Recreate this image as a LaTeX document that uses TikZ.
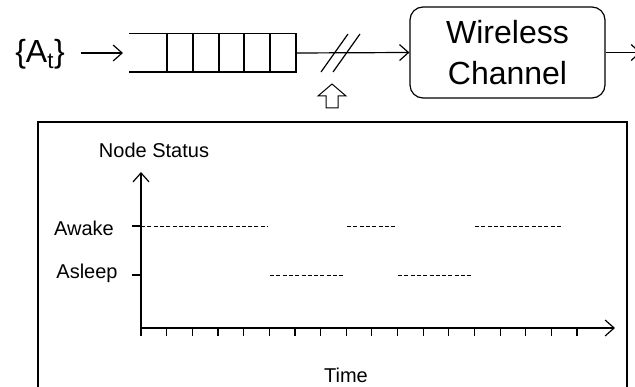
\documentclass[tikz,border=0pt]{standalone}
\usepackage{fontspec}
\setmainfont{Liberation Sans}
\usetikzlibrary{arrows.meta}
\tikzset{
  barb/.style={-{Straight Barb[length=9pt,width=16pt]}},
  dashline/.style={line width=0.8pt,dash pattern=on 4pt off 2.3pt},
  chanbox/.style={draw,rounded corners=13pt,minimum width=195pt,minimum height=91pt,align=center,font=\fontsize{32}{41}\selectfont},
  statlabel/.style={anchor=base,font=\fontsize{20}{24}\selectfont}
}
\begin{document}
\begin{tikzpicture}[x=1pt,y=-1pt,line width=1.2pt]
            \useasboundingbox (0,0) rectangle (635,387);
            \clip (0,0) rectangle (635,387);
            \def\tickGap{25.65}
            \def\awakeY{226}
            \def\asleepY{275}

            % arrivals, queue and channel
            \node[anchor=base,font=\fontsize{32}{38}\selectfont] (arr) at (40,63) {\{A\textsubscript{t}\}};
            \coordinate (qin) at (129,53);
            \coordinate (qout) at (296,53);
            \draw (129,33.5) -- (296,33.5) -- (296,72) -- (129,72);
            \foreach \x in {167,193,219,244,270} {
                        \draw (\x,33.5) -- (\x,72);
                  }
            \node[chanbox] (chan) at (507.5,52.5) {Wireless\\Channel};
            \coordinate (out) at (641,52.5);
            \draw[barb,shorten >=6pt] (arr.east |- qin) ++(12,0) -- (qin);
            \draw[barb] (qout) -- (chan.west);
            \draw[barb] (chan.east) -- (out);

            % switch on the link
            \draw (321,72) -- (348,34);
            \draw (333,72) -- (360,34);
            \draw[line width=1pt] (332,84) -- (346,96) -- (338,96) -- (338,108) -- (326,108) -- (326,96) -- (318,96) -- cycle;

            % node status plot
            \draw (38,122) rectangle (627,420);
            \coordinate (o) at (141,328);
            \coordinate (ytop) at (141,172);
            \coordinate (xend) at (615,328);
            \draw[barb] (o) -- (ytop);
            \draw[barb] (o) -- (xend);
            \node[statlabel] (status) at (154,158) {Node Status};
            \node[statlabel] (time) at (346,383) {Time};
            \node[statlabel] (awake) at (84,236) {Awake};
            \node[statlabel] (asleep) at (87,279) {Asleep};
            \draw (132,\awakeY) -- (141,\awakeY);
            \draw (132,\asleepY) -- (141,\asleepY);

            \foreach \i in {0,...,17} {
                        \draw (141+\i*\tickGap,328) -- ++(0,8);
                  }

            \foreach \a\b in {141/268,347/397,475/563} {
                        \draw[dashline] (\a,\awakeY) -- (\b,\awakeY);
                  }
            \foreach \a\b in {270/345,398/473} {
                        \draw[dashline] (\a,\asleepY) -- (\b,\asleepY);
                  }
      \end{tikzpicture}
\end{document}
